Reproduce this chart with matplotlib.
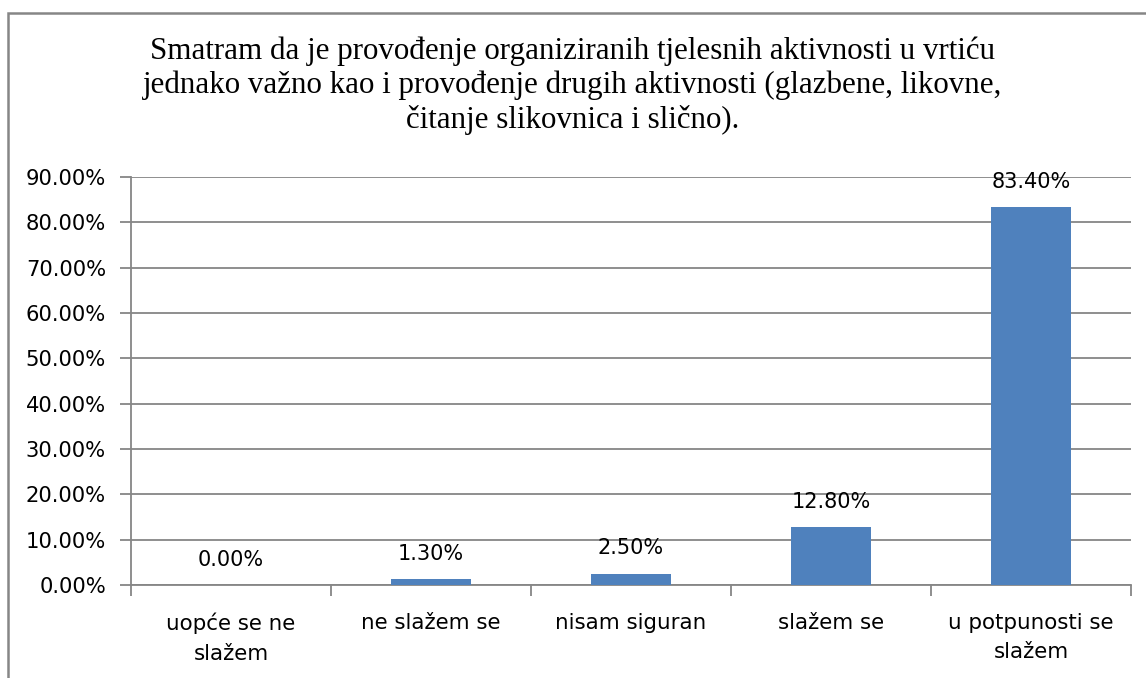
import matplotlib.pyplot as plt
from matplotlib.patches import Rectangle
from matplotlib.ticker import FuncFormatter

categories = ["uopće se ne\nslažem", "ne slažem se", "nisam siguran", "slažem se", "u potpunosti se\nslažem"]
values = [0.0, 0.013, 0.025, 0.128, 0.834]
value_labels = ["0.00%", "1.30%", "2.50%", "12.80%", "83.40%"]
title = ("Smatram da je provođenje organiziranih tjelesnih aktivnosti u vrtiću\n"
         "jednako važno kao i provođenje drugih aktivnosti (glazbene, likovne,\n"
         "čitanje slikovnica i slično).")

gray = "#868686"
plt.rcParams['font.family'] = ['DejaVu Sans']

fig = plt.figure(figsize=(11.46, 6.78), dpi=100)
ax = fig.add_axes([131 / 1146, 1 - 585 / 678, 1000 / 1146, 408 / 678])

x = range(len(categories))
ax.bar(x, values, width=0.4, color="#4F81BD", zorder=3)
for xi, v, lab in zip(x, values, value_labels):
    ax.annotate(lab, (xi, v), xytext=(0, 11), textcoords="offset points",
                ha="center", va="bottom", fontsize=15, color="black")

ax.set_xlim(-0.5, len(categories) - 0.5)
ax.set_ylim(0, 0.9)
ax.set_yticks([i / 10 for i in range(10)])
ax.yaxis.set_major_formatter(FuncFormatter(lambda v, p: f"{v:.2%}"))
ax.grid(axis="y", color=gray, linewidth=1.3, zorder=0)

ax.set_xticks(list(x))
ax.set_xticklabels(categories, fontsize=15.4, linespacing=1.6)
ax.set_xticks([i - 0.5 for i in range(len(categories) + 1)], minor=True)
ax.tick_params(axis="x", which="major", length=0, pad=20)
ax.tick_params(axis="x", which="minor", length=8, color=gray, width=1.3)
ax.tick_params(axis="y", length=8, color=gray, width=1.3, labelsize=15.2, pad=10)

for side in ["top", "right"]:
    ax.spines[side].set_visible(False)
for side in ["left", "bottom"]:
    ax.spines[side].set_color(gray)
    ax.spines[side].set_linewidth(1.3)

fig.text(0.5, 1 - 86 / 678, title, ha="center", va="center", fontsize=22.3,
         family="Liberation Serif", linespacing=1.2)

fig.add_artist(Rectangle((8 / 1146, -0.1), 1.2, 1 - 13 / 678 + 0.1, transform=fig.transFigure,
                         fill=False, edgecolor=gray, linewidth=1.8))

fig.savefig("out.png", dpi=100)
